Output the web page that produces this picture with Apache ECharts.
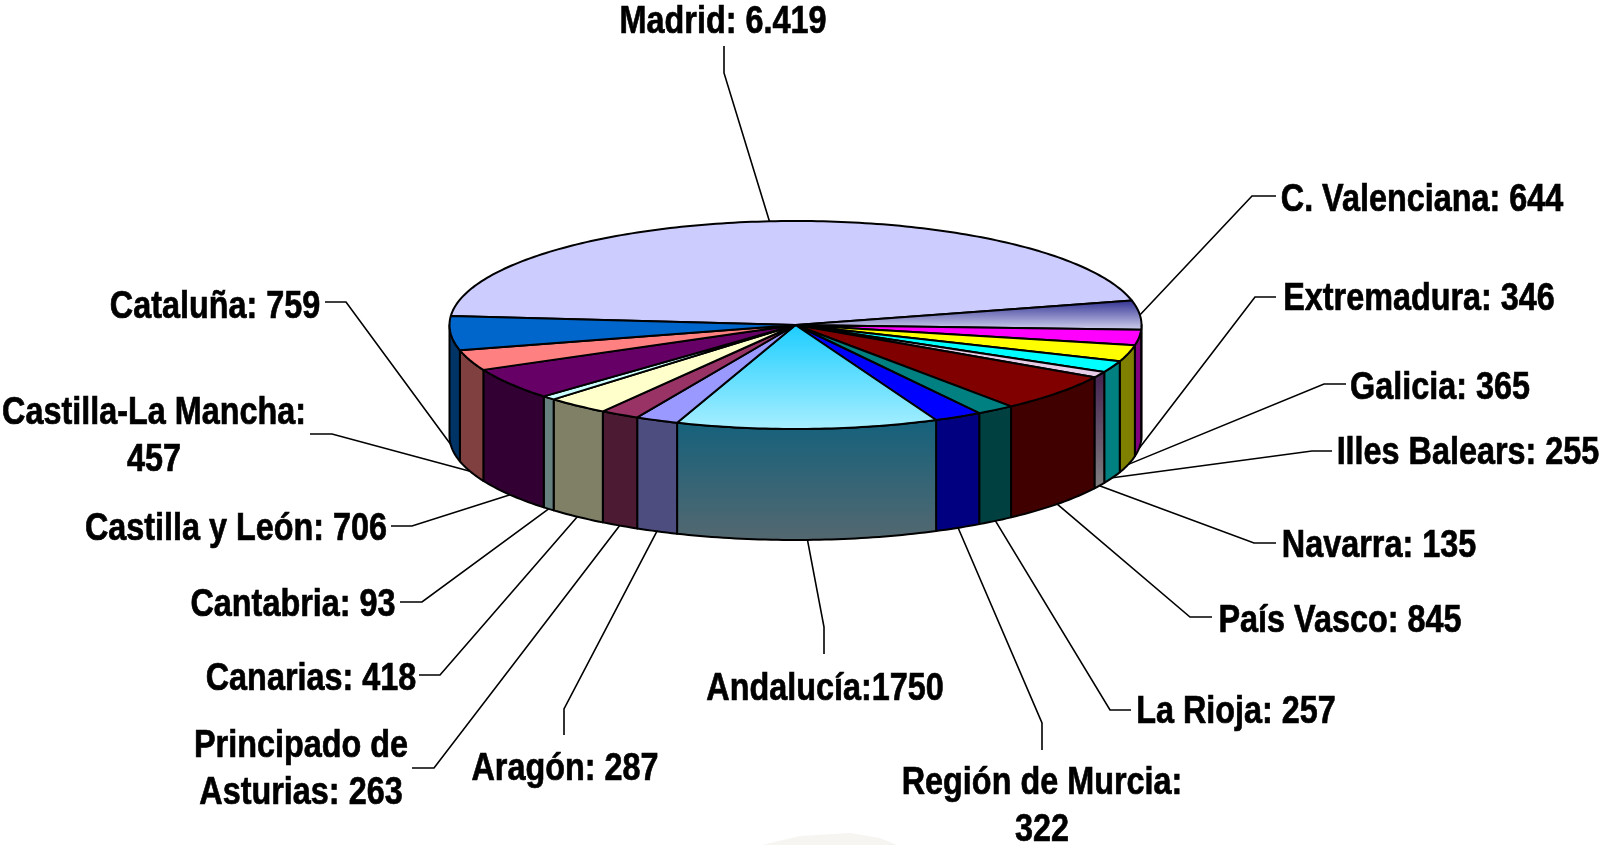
<!DOCTYPE html>
<html>
<head>
<meta charset="utf-8">
<style>
  html, body { margin: 0; padding: 0; background: #fff; }
  #chart { width: 1601px; height: 845px; }
</style>
<script src="https://cdn.jsdelivr.net/npm/echarts@6/dist/echarts.min.js"></script>
</head>
<body>
<div id="chart"></div>
<script>
// datos
var categories = ['Madrid', 'C. Valenciana', 'Extremadura', 'Galicia', 'Illes Balears', 'Navarra', 'País Vasco', 'La Rioja',
    'Región de Murcia', 'Andalucía', 'Aragón', 'Principado de Asturias', 'Canarias', 'Cantabria', 'Castilla y León', 'Castilla-La Mancha', 'Cataluña'];
var values = [6419, 644, 346, 365, 255, 135, 845, 257, 322, 1750, 287, 263, 418, 93, 706, 457, 759];
var labels = ['Madrid: 6.419', 'C. Valenciana: 644', 'Extremadura: 346', 'Galicia: 365', 'Illes Balears: 255', 'Navarra: 135', 'País Vasco: 845', 'La Rioja: 257',
    'Región de Murcia:\n322', 'Andalucía:1750', 'Aragón: 287', 'Principado de\nAsturias: 263', 'Canarias: 418', 'Cantabria: 93', 'Castilla y León: 706', 'Castilla-La Mancha:\n457', 'Cataluña: 759'];

// colores: [arriba, abajo] si es degradado
var topColors = ['#CCCCFF', ['#2E2E92', '#D4D4F0'], '#FF00FF', '#FFFF00', '#00FFFF', '#E6CCE6', '#800000', '#008080',
    '#0000FF', ['#1CCDFF', '#A8EFFF'], '#9999FF', '#993366', '#FFFFCC', '#CCFFFF', '#660066', '#FF8080', '#0066CC'];
var wallColors = ['#666680', '#20204A', '#800080', '#808000', '#008080', ['#44204F', '#808080'], '#400000', '#004040',
    '#000080', ['#14617C', '#546870'], '#4D4D80', '#4D1A33', '#808066', '#668080', '#330033', '#804040', '#003366'];

// posicion de etiquetas y codos de las lineas guia
var labelPos = [[723, 22], [1422, 200], [1419, 299], [1440, 388], [1468, 453], [1379, 546], [1340, 621], [1236, 712],
    [1042, 807], [825, 689], [565, 769], [301, 770], [311, 679], [293, 605], [236, 529], [154, 437], [215, 307]];
var elbows = [
    [[724, 73], [724, 46]], [[1252, 196], [1276, 196]], [[1255, 297], [1276, 297]], [[1324, 384], [1346, 384]],
    [[1312, 451], [1332, 451]], [[1254, 543], [1276, 543]], [[1190, 617], [1212, 617]], [[1110, 710], [1131, 710]],
    [[1042, 723], [1042, 750]], [[824, 627], [824, 654]], [[564, 709], [564, 735]], [[434, 768], [412, 768]],
    [[440, 675], [419, 675]], [[422, 602], [400, 602]], [[412, 526], [391, 526]], [[332, 434], [310, 434]], [[346, 302], [325, 302]]
];

var cx = 795.5, cy = 325, rx = 346, ry = 104, depth = 111;
var startAngle = 175;

var total = values.reduce(function (a, b) { return a + b; }, 0);
var angles = [];
values.reduce(function (acc, v) {
    angles.push([startAngle - acc / total * 360, startAngle - (acc + v) / total * 360]);
    return acc + v;
}, 0);

function rim(deg, dy) {
    var a = deg * Math.PI / 180;
    return [cx + rx * Math.cos(a), cy - ry * Math.sin(a) + (dy || 0)];
}

function arcPoints(a1, a2, dy) {
    var n = Math.max(2, Math.ceil(Math.abs(a1 - a2)));
    var pts = [];
    for (var i = 0; i <= n; i++) {
        pts.push(rim(a1 + (a2 - a1) * i / n, dy));
    }
    return pts;
}

function fill(c) {
    if (typeof c === 'string') return c;
    return new echarts.graphic.LinearGradient(0, 0, 0, 1, [
        { offset: 0, color: c[0] },
        { offset: 1, color: c[1] }
    ]);
}

function renderLabel(params) {
    var i = params.dataIndex;
    var a = angles[i];
    var mid = (a[0] + a[1]) / 2;
    // la guia sale del borde superior si la porcion esta atras, si no del borde inferior
    var start = rim(mid, Math.sin(mid * Math.PI / 180) > 0 ? 0 : depth);
    return {
        type: 'group',
        children: [{
            type: 'polyline',
            shape: { points: [start].concat(elbows[i]) },
            style: { stroke: '#000', lineWidth: 1.6, fill: null }
        }, {
            type: 'text',
            x: labelPos[i][0],
            y: labelPos[i][1],
            scaleX: 0.83,
            style: {
                text: labels[i],
                font: 'bold 39px "Liberation Sans"',
                lineHeight: 47,
                fill: '#000',
                stroke: '#000',
                lineWidth: 0.7,
                align: 'center',
                verticalAlign: 'middle'
            }
        }]
    };
}

function renderWall(params) {
    var i = params.dataIndex;
    // solo la mitad frontal (0 a -180 grados) tiene pared visible
    var from = Math.min(angles[i][0], 0);
    var to = Math.max(angles[i][1], -180);
    if (from <= to) return;
    var pts = arcPoints(from, to, 0).concat(arcPoints(to, from, depth));
    return {
        type: 'polygon',
        shape: { points: pts },
        style: { fill: fill(wallColors[i]), stroke: '#000', lineWidth: 2, lineJoin: 'round' }
    };
}

function renderTop(params) {
    var i = params.dataIndex;
    var pts = [[cx, cy]].concat(arcPoints(angles[i][0], angles[i][1], 0));
    return {
        type: 'polygon',
        shape: { points: pts },
        style: { fill: fill(topColors[i]), stroke: '#000', lineWidth: 2, lineJoin: 'round' }
    };
}

var myChart = echarts.init(document.getElementById('chart'), null, { renderer: 'canvas' });

var pieData = categories.map(function (name, i) {
    return { name: name, value: values[i] };
});

myChart.setOption({
    backgroundColor: '#fff',
    animation: false,
    graphic: [{
        // mancha clara al pie de la imagen
        type: 'polygon',
        silent: true,
        shape: { points: [[762, 845], [800, 836], [850, 833], [880, 838], [897, 845]] },
        style: { fill: '#F6F5F1' }
    }],
    series: [
        { type: 'custom', coordinateSystem: 'none', silent: true, z: 1, renderItem: renderLabel, data: pieData },
        { type: 'custom', coordinateSystem: 'none', silent: true, z: 2, renderItem: renderWall, data: pieData },
        { type: 'custom', coordinateSystem: 'none', silent: true, z: 3, renderItem: renderTop, data: pieData }
    ]
});
</script>
</body>
</html>
